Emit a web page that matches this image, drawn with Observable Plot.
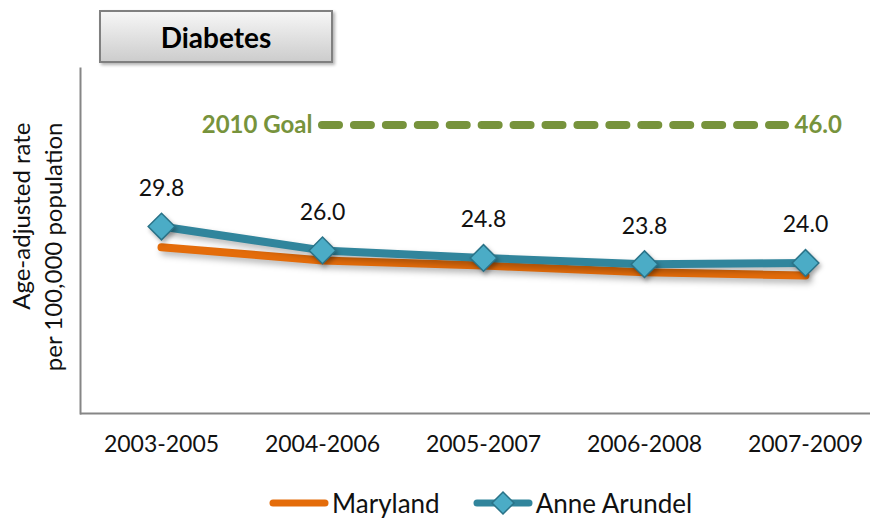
<!DOCTYPE html>
<html><head><meta charset="utf-8">
<script src="https://cdn.jsdelivr.net/npm/d3@7"></script>
<script src="https://cdn.jsdelivr.net/npm/@observablehq/plot@0.6"></script>
<style>
body{margin:0;background:#fff;font-family:Lato,"Open Sans",sans-serif;}
#wrap{position:relative;width:870px;height:519px;overflow:hidden;background:#fff;}
#title{position:absolute;left:99px;top:10px;width:230px;height:49px;border:2px solid #808080;background:linear-gradient(#f6f6f6,#cdcdcd);box-shadow:2px 2px 3px rgba(0,0,0,.3);font:bold 28px Lato,sans-serif;color:#000;display:flex;align-items:center;justify-content:center;z-index:2;box-sizing:content-box;}
#chart{position:absolute;left:0;top:0;}
#legend{position:absolute;top:478px;left:269px;height:50px;display:flex;align-items:center;font:26px Lato,sans-serif;color:#111;}
#legend .item{display:flex;align-items:center;margin-right:33px;}
#legend svg{display:block;margin-right:3px;}
g[aria-label="line"] path{filter:drop-shadow(3px 4px 3px rgba(0,0,0,.28));}
g[aria-label="dot"] path{filter:drop-shadow(2px 3px 2px rgba(0,0,0,.3));}
</style>
</head><body>
<div id="wrap">
  <div id="title"></div>
  <div id="chart"></div>
  <div id="legend"></div>
</div>
<script>
const title = "Diabetes";
const periods = ["2003-2005","2004-2006","2005-2007","2006-2008","2007-2009"];
const maryland = [26.5, 24.4, 23.6, 22.5, 22.0];
const anneArundel = [29.8, 26.0, 24.8, 23.8, 24.0];
const goalValue = 46.0;
const goalLabel = "2010 Goal";
const seriesNames = ["Maryland","Anne Arundel"];
const seriesColors = ["#E46C0A","#31859C"];
const yLabel = ["Age-adjusted rate","per 100,000 population"];

const md = periods.map((p,i)=>({period:p, value:maryland[i]}));
const aa = periods.map((p,i)=>({period:p, value:anneArundel[i]}));
const goal = [{value: goalValue, from: periods[1], to: periods[periods.length-1]}];
const green = "#77933C";

document.getElementById("title").textContent = title;

const chart = Plot.plot({
  width: 870, height: 470,
  marginLeft: 80, marginRight: -16, marginTop: 68, marginBottom: 57,
  x: {type:"point", domain: periods, padding: 0.5, label: null},
  y: {domain:[0,55], axis: null},
  style: {fontFamily: "Lato, sans-serif", fontSize: "23px", color:"#111", background:"transparent", overflow:"visible"},
  marks: [
    Plot.frame({anchor:"left", stroke:"#868686", strokeWidth:2}),
    Plot.ruleY([0], {stroke:"#868686", strokeWidth:2}),
    Plot.axisX({tickSize:0, tickPadding:22, fontSize:23, label:null}),
    Plot.ruleY(goal, {y:"value", x1:"from", x2:"to", stroke:green, strokeWidth:8, strokeDasharray:"17,14.93", strokeLinecap:"round", insetRight:20}),
    Plot.text(goal, {y:"value", x:"from", text: ()=>goalLabel, textAnchor:"end", dx:-10, fill:green, fontWeight:"bold", fontSize:24}),
    Plot.text(goal, {y:"value", x:"to", text: d=>d.value.toFixed(1), textAnchor:"start", dx:-11, fill:green, fontWeight:"bold", fontSize:24}),
    Plot.lineY(md, {x:"period", y:"value", stroke:seriesColors[0], strokeWidth:8}),
    Plot.lineY(aa, {x:"period", y:"value", stroke:seriesColors[1], strokeWidth:8}),
    Plot.dot(aa, {x:"period", y:"value", symbol:"diamond2", r:12, fill:"#4BACC6", stroke:"#2A7388", strokeWidth:1.5}),
    Plot.text(aa, {x:"period", y:"value", text: d=>d.value.toFixed(1), dy:-38, fontSize:23, fill:"#111"}),
    Plot.text([yLabel.join("\n")], {text: d=>d, frameAnchor:"top-left", rotate:-90, textAnchor:"end", dx:-73, dy:54, lineHeight: 32/24, fontSize:24, fill:"#111"})
  ]
});
document.getElementById("chart").appendChild(chart);

const legend = document.getElementById("legend");
seriesNames.forEach((name,i)=>{
  const item = document.createElement("div");
  item.className = "item";
  const ns = "http://www.w3.org/2000/svg";
  const s = document.createElementNS(ns,"svg");
  s.setAttribute("width","60"); s.setAttribute("height","26");
  const l = document.createElementNS(ns,"line");
  l.setAttribute("x1","4"); l.setAttribute("x2","56"); l.setAttribute("y1","13"); l.setAttribute("y2","13");
  l.setAttribute("stroke", seriesColors[i]); l.setAttribute("stroke-width","7"); l.setAttribute("stroke-linecap","round");
  s.appendChild(l);
  if (i===1){
    const d = document.createElementNS(ns,"path");
    d.setAttribute("d","M30,2L41,13L30,24L19,13Z");
    d.setAttribute("fill","#4BACC6"); d.setAttribute("stroke","#2A7388"); d.setAttribute("stroke-width","1.5");
    s.appendChild(d);
  }
  item.appendChild(s);
  const t = document.createElement("span"); t.textContent = name;
  item.appendChild(t);
  legend.appendChild(item);
});
</script>
</body></html>
